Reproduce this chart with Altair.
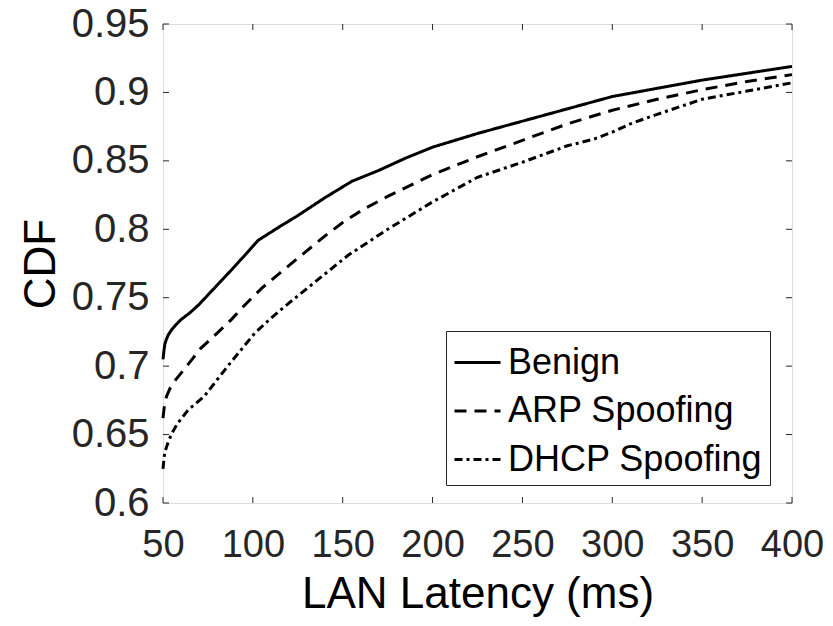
import altair as alt
import pandas as pd

# ---- data ----
series_names = ["Benign", "ARP Spoofing", "DHCP Spoofing"]

benign_x = [50, 50.5, 51, 52, 53, 55, 57, 60, 65, 70, 80, 90, 103, 115, 125, 140,
            155, 170, 185, 200, 225, 250, 275, 300, 325, 350, 375, 400]
benign_y = [0.705, 0.711, 0.716, 0.720, 0.723, 0.727, 0.730, 0.734, 0.739, 0.745,
            0.759, 0.773, 0.792, 0.802, 0.810, 0.823, 0.835, 0.843, 0.852, 0.860,
            0.870, 0.879, 0.888, 0.897, 0.903, 0.909, 0.914, 0.919]

arp_x = [50, 50.5, 51, 52, 54, 57, 62, 71, 80, 88, 95, 105, 115, 127, 140, 150,
         162, 175, 200, 225, 250, 275, 300, 325, 350, 375, 400]
arp_y = [0.662, 0.668, 0.673, 0.678, 0.684, 0.690, 0.698, 0.713, 0.724, 0.734,
         0.744, 0.757, 0.768, 0.781, 0.795, 0.805, 0.815, 0.824, 0.840, 0.853,
         0.865, 0.877, 0.887, 0.895, 0.902, 0.908, 0.913]

dhcp_x = [50, 50.5, 51, 52, 53, 55, 58, 64, 73, 86, 101, 110, 120, 136, 153, 175,
          200, 225, 250, 275, 290, 300, 310, 325, 350, 375, 400]
dhcp_y = [0.625, 0.632, 0.637, 0.641, 0.645, 0.651, 0.658, 0.668, 0.678, 0.700,
          0.724, 0.735, 0.746, 0.763, 0.781, 0.800, 0.820, 0.838, 0.849, 0.861,
          0.866, 0.871, 0.877, 0.884, 0.895, 0.901, 0.907]

x_ticks = [50, 100, 150, 200, 250, 300, 350, 400]
y_ticks = [0.6, 0.65, 0.7, 0.75, 0.8, 0.85, 0.9, 0.95]

rows = []
for name, xs, ys in zip(series_names, [benign_x, arp_x, dhcp_x], [benign_y, arp_y, dhcp_y]):
    for i, (a, b) in enumerate(zip(xs, ys)):
        rows.append({"series": name, "latency": a, "cdf": b, "order": i})
df = pd.DataFrame(rows)
xt = pd.DataFrame({"latency": x_ticks})
yt = pd.DataFrame({"cdf": y_ticks})

W, H = 629, 479
FONT = "Liberation Sans"
AX = "#262626"
TL = 6

xscale = alt.Scale(domain=[50, 400], nice=False, zero=False)
yscale = alt.Scale(domain=[0.6, 0.95], nice=False, zero=False)

x_axis = alt.Axis(values=x_ticks, title="LAN Latency (ms)", grid=False,
                  ticks=False, domain=False, labelFont=FONT, labelFontSize=38,
                  labelColor=AX, labelPadding=23, labelFlush=False,
                  labelOverlap=False, titleFont=FONT, titleFontSize=44,
                  titleFontWeight="normal", titleColor="black",
                  titleBaseline="alphabetic", titleY=104)
y_axis = alt.Axis(values=y_ticks, format=".2~f", title="CDF", grid=False,
                  ticks=False, domain=False, labelFont=FONT, labelFontSize=40,
                  labelColor=AX, labelPadding=14, labelFlush=False,
                  labelOverlap=False, titleFont=FONT, titleFontSize=44,
                  titleFontWeight="normal", titleColor="black",
                  titleAngle=270, titleBaseline="alphabetic",
                  titleX=-109, titleY=H / 2)

lines = alt.Chart(df).mark_line(color="black", strokeWidth=3).encode(
    x=alt.X("latency:Q", scale=xscale, axis=x_axis),
    y=alt.Y("cdf:Q", scale=yscale, axis=y_axis),
    strokeDash=alt.StrokeDash(
        "series:N",
        scale=alt.Scale(domain=series_names, range=[[1, 0], [12, 8], [8, 4, 3, 4]]),
        legend=alt.Legend(orient="none", legendX=283, legendY=307, title=None,
                          labelFont=FONT, labelFontSize=36, labelColor="black",
                          labelLimit=400, labelOffset=6, symbolType="stroke",
                          symbolSize=2116, symbolStrokeWidth=3,
                          symbolStrokeColor="black", padding=7, rowPadding=5.5,
                          strokeColor=AX, fillColor="white", cornerRadius=0)),
    order="order:Q",
)

tick_bottom = alt.Chart(xt).mark_rule(color=AX, strokeWidth=1).encode(
    x=alt.X("latency:Q", scale=xscale, axis=x_axis), y=alt.value(H), y2=alt.value(H - TL))
tick_top = alt.Chart(xt).mark_rule(color=AX, strokeWidth=1).encode(
    x=alt.X("latency:Q", scale=xscale, axis=x_axis), y=alt.value(0), y2=alt.value(TL))
tick_left = alt.Chart(yt).mark_rule(color=AX, strokeWidth=1).encode(
    y=alt.Y("cdf:Q", scale=yscale, axis=y_axis), x=alt.value(0), x2=alt.value(TL))
tick_right = alt.Chart(yt).mark_rule(color=AX, strokeWidth=1).encode(
    y=alt.Y("cdf:Q", scale=yscale, axis=y_axis), x=alt.value(W), x2=alt.value(W - TL))

chart = alt.layer(lines, tick_bottom, tick_top, tick_left, tick_right).properties(
    width=W, height=H,
    autosize=alt.AutoSizeParams(type="none"),
    padding={"left": 155, "top": 16, "right": 33, "bottom": 115},
).configure_view(stroke=AX, strokeWidth=1).configure(background="white")

chart.save("out.html", embed_options={"renderer": "svg", "actions": False})
